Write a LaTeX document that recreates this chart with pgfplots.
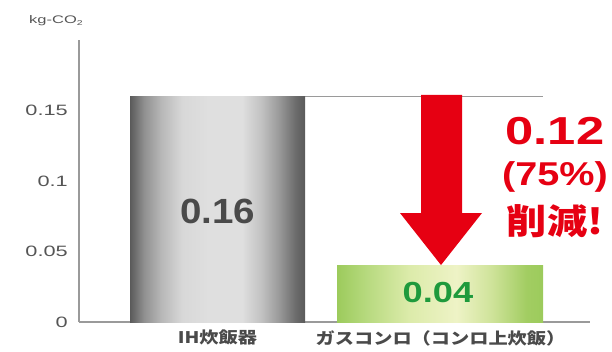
\documentclass[border=0pt]{standalone}
\usepackage{fontspec}
\setmainfont{Liberation Sans}
\newfontfamily\jpw{Noto Sans CJK JP}[FakeStretch=1.2]
\newfontfamily\jpr{Noto Sans CJK JP}[FakeStretch=1.15]
\newfontfamily\tickw{Liberation Sans}[FakeStretch=1.45]
\newfontfamily\unitw{Liberation Sans}[FakeStretch=1.5]
\newfontfamily\numa{Liberation Sans}[FakeStretch=1.1]
\newfontfamily\numb{Liberation Sans}[FakeStretch=1.25]
\newfontfamily\numc{Liberation Sans}[FakeStretch=1.3]
\newfontfamily\numd{Liberation Sans}[FakeStretch=1.2]
\usepackage{pgfplots}
\pgfplotsset{compat=1.18}

\definecolor{axgray}{HTML}{9A9A9A}
\definecolor{txtgray}{HTML}{4A4A4A}
\definecolor{tickgray}{HTML}{555555}
\definecolor{numgreen}{HTML}{1E9A3C}
\definecolor{redc}{HTML}{E60012}
\definecolor{ga}{HTML}{5A5A5A}
\definecolor{gb}{HTML}{909090}
\definecolor{gc}{HTML}{B8B8B8}
\definecolor{gd}{HTML}{D8D8D8}
\definecolor{ge}{HTML}{DFDFDF}
\definecolor{gf}{HTML}{C2C2C2}
\definecolor{gg}{HTML}{9A9A9A}
\definecolor{gh}{HTML}{6A6A6A}
\definecolor{la}{HTML}{9CCB5C}
\definecolor{lb}{HTML}{B8DA80}
\definecolor{lc}{HTML}{DCEBAA}
\definecolor{ld}{HTML}{EEF3C6}
\definecolor{le}{HTML}{CFE39A}
\definecolor{lf}{HTML}{A2CD62}

% TikZ maps the 25bp..75bp band of a shading onto the path
\pgfdeclarehorizontalshading{graybar}{100bp}{color(0bp)=(ga); color(25bp)=(ga); color(29bp)=(gb); color(34bp)=(gc); color(40bp)=(gd); color(47.5bp)=(ge); color(57bp)=(ge); color(62.5bp)=(gf); color(67.5bp)=(gg); color(72.5bp)=(gh); color(75bp)=(ga); color(100bp)=(ga)}
\pgfdeclarehorizontalshading{greenbar}{100bp}{color(0bp)=(la); color(25bp)=(la); color(32.5bp)=(lb); color(42.5bp)=(lc); color(54bp)=(ld); color(62.5bp)=(le); color(71bp)=(lf); color(75bp)=(la); color(100bp)=(la)}

\begin{document}
\begin{tikzpicture}
\useasboundingbox (-79pt,-29pt) rectangle (533pt,322pt);
\begin{axis}[
  at={(0,0)}, anchor=south west,
  scale only axis,
  width=511pt, height=282pt,
  xmin=79, xmax=590,
  ymin=0, ymax=0.2,
  axis lines=left,
  axis line style={-, draw=axgray, line width=1.3pt},
  clip=false,
  major tick length=0pt,
  scaled y ticks=false,
  scaled x ticks=false,
  ytick={0,0.05,0.1,0.15},
  yticklabels={0,0.05,0.1,0.15},
  yticklabel style={font=\tickw\fontsize{15}{15}\selectfont, text=tickgray, inner sep=0pt, anchor=east, xshift=-11pt},
  xtick={217.5,440.5},
  xticklabels={{IH炊飯器},{ガスコンロ（コンロ上炊飯）}},
  xticklabel style={font=\jpw\bfseries\fontsize{16}{16}\selectfont, text=txtgray, inner sep=0pt, anchor=north, yshift=-8pt},
]
% reference line at 0.16
\draw[axgray, line width=0.9pt] (axis cs:305,0.16) -- (axis cs:543,0.16);
\addplot[ybar, bar shift=0pt, bar width=175pt, draw=none, shade, shading=graybar, forget plot] coordinates {(217.5,0.16)};
\addplot[ybar, bar shift=0pt, bar width=206pt, draw=none, shade, shading=greenbar, forget plot] coordinates {(440,0.04)};
% arrow
\fill[redc] (axis cs:421,0.161) -- (axis cs:462,0.161) -- (axis cs:462,0.0773) -- (axis cs:482,0.0773) -- (axis cs:441,0.0404) -- (axis cs:400,0.0773) -- (axis cs:421,0.0773) -- cycle;
% labels
\node[text=txtgray, font=\numa\bfseries\fontsize{35}{35}\selectfont] at (axis cs:217.5,0.0787) {0.16};
\node[text=numgreen, font=\numb\bfseries\fontsize{29}{29}\selectfont] at (axis cs:438,0.0206) {0.04};
\node[text=redc, font=\numc\bfseries\fontsize{39}{39}\selectfont] at (axis cs:555,0.1355) {0.12};
\node[text=redc, font=\numd\bfseries\fontsize{33}{33}\selectfont] at (axis cs:555,0.1028) {(75\%)};
\node[text=redc, font=\jpr\bfseries\fontsize{35}{35}\selectfont] at (axis cs:555,0.0716) {削減!};
\node[text=tickgray, font=\unitw\fontsize{11}{11}\selectfont] at (axis cs:56,0.2135) {kg-CO\raisebox{-0.3ex}{\fontsize{7}{7}\selectfont 2}};
\end{axis}
\end{tikzpicture}
\end{document}
